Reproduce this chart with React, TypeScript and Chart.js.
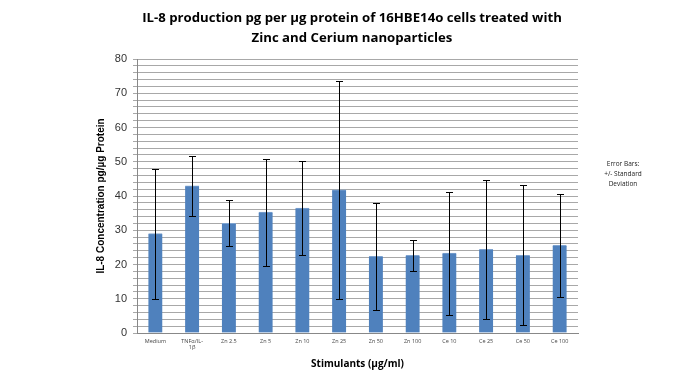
import React, { useEffect, useRef } from "react";
import { Chart, registerables } from "chart.js";

Chart.register(...registerables);

const categories: (string | string[])[] = [
  "Medium", ["TNFα/IL-", "1β"], "Zn 2.5", "Zn 5", "Zn 10", "Zn 25",
  "Zn 50", "Zn 100", "Ce 10", "Ce 25", "Ce 50", "Ce 100",
];
const means = [29.0, 43.0, 32.0, 35.3, 36.5, 41.8, 22.4, 22.7, 23.3, 24.4, 22.7, 25.6];
const stdDevs = [19.0, 8.7, 6.7, 15.6, 13.8, 31.9, 15.6, 4.5, 17.9, 20.3, 20.4, 15.0];
const titleLines = [
  "IL-8 production pg per µg protein of 16HBE14o cells treated with",
  "Zinc and Cerium nanoparticles",
];
const yTitle = "IL-8 Concentration pg/µg Protein";
const noteLines = ["Error Bars:", "+/- Standard", "Deviation"];

const errorBarPlugin = {
  id: "errorBars",
  afterDatasetsDraw(chart: any) {
    const meta = chart.getDatasetMeta(0);
    const y = chart.scales.y;
    const ctx = chart.ctx;
    ctx.save();
    ctx.strokeStyle = "#000";
    ctx.lineWidth = 1;
    meta.data.forEach((bar: any, i: number) => {
      const x = Math.round(bar.x) + 0.5;
      const top = Math.round(y.getPixelForValue(means[i] + stdDevs[i])) + 0.5;
      const bot = Math.round(y.getPixelForValue(means[i] - stdDevs[i])) + 0.5;
      ctx.beginPath();
      ctx.moveTo(x, top);
      ctx.lineTo(x, bot);
      ctx.moveTo(x - 3.5, top);
      ctx.lineTo(x + 3.5, top);
      ctx.moveTo(x - 3.5, bot);
      ctx.lineTo(x + 3.5, bot);
      ctx.stroke();
    });
    ctx.restore();
  },
};

const textPlugin = {
  id: "texts",
  afterDraw(chart: any) {
    const ctx = chart.ctx;
    const area = chart.chartArea;
    ctx.save();
    ctx.fillStyle = "#000";
    ctx.textAlign = "center";
    ctx.textBaseline = "middle";
    ctx.font = "bold 13.2px 'Open Sans', sans-serif";
    ctx.fillText(titleLines[0], 352, 18);
    ctx.fillText(titleLines[1], 352, 38);
    ctx.save();
    ctx.translate(101, (area.top + area.bottom) / 2);
    ctx.rotate(-Math.PI / 2);
    ctx.font = "bold 10px 'Liberation Sans Narrow', 'Liberation Sans', sans-serif";
    ctx.fillText(yTitle, 0, 0);
    ctx.restore();
    ctx.font = "6.5px 'Open Sans', sans-serif";
    ctx.fillStyle = "#222";
    ctx.fillText(noteLines[0], 623, 164);
    ctx.fillText(noteLines[1], 623, 174);
    ctx.fillText(noteLines[2], 623, 184);
    ctx.restore();
  },
};

export default function App() {
  const ref = useRef<HTMLCanvasElement>(null);
  useEffect(() => {
    const chart = new Chart(ref.current!, {
      type: "bar",
      data: {
        labels: categories,
        datasets: [
          {
            data: means,
            backgroundColor: "#4f81bd",
            borderColor: "#7ea3d0",
            borderWidth: { top: 1, left: 0, right: 0, bottom: 0 },
            barThickness: 14,
          },
        ],
      },
      options: {
        animation: false,
        responsive: false,
        maintainAspectRatio: false,
        layout: { padding: { left: 0, right: 96, top: 59, bottom: 0 } },
        plugins: { legend: { display: false }, tooltip: { enabled: false } },
        scales: {
          x: {
            grid: { display: false, drawTicks: false },
            border: { color: "#888", width: 1 },
            ticks: {
              color: "#444",
              font: { size: 5.5, family: "'Open Sans', sans-serif" },
              maxRotation: 0,
              minRotation: 0,
              padding: 5,
              autoSkip: false,
            },
            title: {
              display: true,
              text: "Stimulants (µg/ml)",
              color: "#000",
              font: { size: 10, weight: "bold", family: "'Open Sans', sans-serif" },
              padding: { top: 2, bottom: 0 },
            },
            afterFit(scale: any) {
              scale.height = 37;
            },
          },
          y: {
            min: 0,
            max: 80,
            grid: {
              color: "#a8a8a8",
              lineWidth: 1,
              drawTicks: true,
              tickLength: 4,
            },
            border: { color: "#888", width: 1 },
            ticks: {
              stepSize: 2,
              color: "#333",
              font: { size: 11, family: "'Liberation Sans', sans-serif" },
              padding: 6,
              callback: (v: any) => (Number(v) % 10 === 0 ? String(v) : ""),
              autoSkip: false,
            },
            afterFit(scale: any) {
              scale.width = 137;
            },
          },
        },
      },
      plugins: [errorBarPlugin, textPlugin],
    });
    return () => chart.destroy();
  }, []);
  return (
    <div style={{ position: "absolute", left: 0, top: 0, width: 674, height: 370, background: "#fff" }}>
      <canvas ref={ref} width={674} height={370} style={{ width: 674, height: 370 }} />
    </div>
  );
}
